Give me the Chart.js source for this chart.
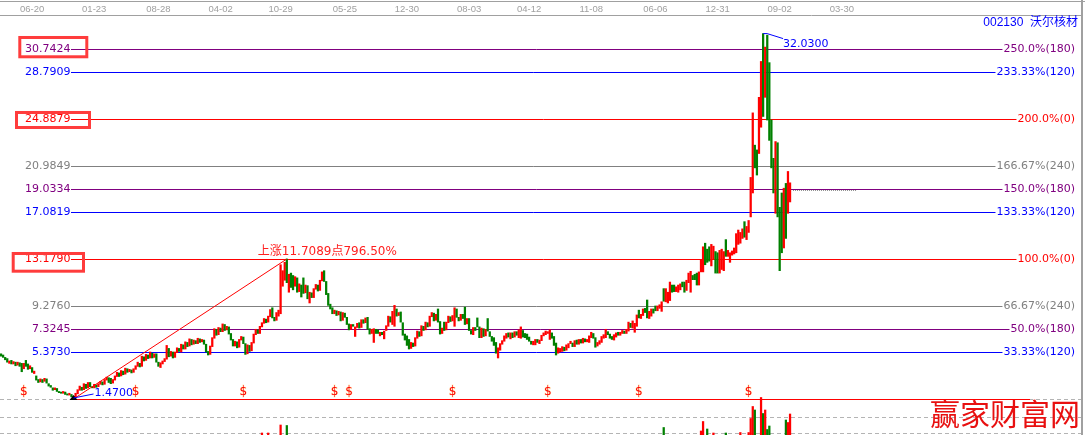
<!DOCTYPE html>
<html>
<head>
<meta charset="utf-8">
<script src="https://cdn.jsdelivr.net/npm/chart.js@4/dist/chart.umd.min.js"></script>
<style>
  html, body { margin: 0; padding: 0; background: #fff; }
</style>
</head>
<body>
<canvas id="myChart" width="1085" height="435"></canvas>
<script>
// weekly bars as [open, close]
const weekly = [
  [5.25,5.05],[5.15,4.95],[4.95,4.75],[4.85,4.55],[4.45,4.65],[4.70,4.40],[4.40,4.60],[4.55,4.25],[4.30,4.55],[4.50,4.20],
  [4.45,3.75],[4.00,4.45],[4.70,4.20],[4.40,3.95],[4.00,4.25],[4.10,3.70],[3.60,3.80],[3.40,3.05],[3.10,2.85],[2.90,3.15],
  [3.10,2.85],[2.95,3.20],[3.15,2.80],[2.75,2.55],[2.60,2.45],[2.40,2.20],[2.25,2.40],[2.35,2.10],[2.10,2.00],[2.05,1.95],
  [1.95,2.10],[2.05,1.85],[1.90,1.80],[1.80,1.95],[1.85,1.65],[1.70,1.47],[1.55,1.95],[1.90,2.25],[2.20,2.55],[2.45,2.20],
  [2.25,2.75],[2.70,2.35],[2.40,2.85],[2.85,2.50],[2.50,2.40],[2.40,2.70],[2.65,2.45],[2.50,2.75],[2.70,2.95],[2.90,2.65],
  [2.70,3.10],[3.05,3.30],[3.25,2.85],[3.20,2.75],[2.80,3.10],[3.05,3.40],[3.35,3.70],[3.65,3.35],[3.40,3.85],[3.80,3.50],
  [3.55,4.05],[4.00,3.70],[3.75,3.95],[3.90,3.65],[3.70,4.00],[3.95,4.25],[4.20,4.55],[4.45,4.15],[4.20,5.05],[5.00,4.65],
  [4.70,5.20],[5.15,4.85],[4.90,5.40],[5.30,4.90],[4.95,5.25],[5.25,4.55],[4.55,4.20],[4.10,4.50],[4.40,4.65],[4.60,4.85],
  [4.80,5.95],[5.70,5.00],[5.05,5.45],[5.40,4.90],[4.95,5.40],[5.35,5.75],[5.70,5.45],[5.40,6.05],[6.00,5.65],[5.65,6.25],
  [6.20,5.85],[5.90,6.50],[6.45,6.00],[6.05,6.40],[6.35,6.10],[6.10,6.55],[6.50,6.20],[6.25,6.45],[6.40,6.05],[6.05,5.40],
  [5.45,5.15],[5.20,5.90],[5.85,6.60],[6.55,7.35],[7.30,6.80],[6.85,7.45],[7.40,7.10],[7.10,7.75],[7.70,7.20],[7.25,7.55],
  [7.50,6.90],[6.95,6.40],[6.45,5.90],[5.90,6.30],[6.25,5.75],[5.80,6.45],[6.40,6.70],[6.65,6.10],[6.10,5.20],[5.25,6.00],
  [5.95,5.45],[5.50,6.20],[6.15,6.90],[6.85,7.30],[7.25,6.95],[6.95,7.55],[7.50,7.85],[7.80,8.20],[8.15,7.85],[7.90,8.40],
  [8.35,8.95],[9.10,8.25],[8.30,8.00],[8.05,8.70],[8.40,8.90],[8.60,12.70],[10.90,12.20],[11.40,12.90],[13.18,11.20],[10.40,11.90],
  [12.00,10.80],[11.80,10.60],[10.90,11.70],[11.60,10.40],[10.45,11.10],[11.00,10.00],[11.60,10.30],[10.35,11.00],[10.95,9.85],[9.50,10.40],
  [10.35,9.95],[9.95,10.70],[10.65,11.05],[11.00,10.50],[10.55,11.40],[11.35,12.10],[12.20,11.30],[11.30,10.20],[10.30,9.30],[9.40,9.00],
  [9.10,8.60],[8.60,8.90],[8.85,8.45],[8.50,8.80],[8.75,8.00],[8.05,8.70],[8.65,8.30],[8.30,7.70],[7.75,7.25],[7.30,7.70],
  [7.70,7.55],[6.70,7.50],[7.45,7.80],[7.85,7.40],[7.45,8.10],[8.10,7.80],[7.85,8.25],[8.30,7.30],[7.35,6.90],[6.95,7.30],
  [6.20,7.35],[7.30,6.95],[7.25,6.95],[6.75,7.05],[7.05,6.85],[6.50,7.15],[7.20,7.60],[7.55,8.40],[8.35,7.90],[7.70,8.80],
  [7.55,9.30],[9.00,8.40],[8.45,8.70],[8.75,7.90],[7.85,6.80],[6.90,6.40],[6.75,5.95],[6.45,5.65],[5.70,6.20],[6.15,5.85],
  [5.90,6.60],[6.55,7.15],[7.10,6.70],[6.75,7.60],[7.55,7.20],[7.25,7.90],[7.85,7.50],[7.55,8.40],[8.35,8.70],[8.65,8.00],
  [8.05,8.55],[9.00,7.90],[7.95,6.90],[6.95,7.40],[7.90,7.20],[7.25,7.90],[7.85,8.40],[8.35,7.95],[8.00,8.45],[7.55,9.10],
  [9.00,8.30],[8.30,8.00],[8.05,8.55],[8.55,8.20],[9.15,7.70],[7.75,8.20],[8.20,7.20],[7.20,6.90],[6.85,7.45],[7.45,7.20],
  [8.25,7.50],[7.50,6.60],[6.60,7.40],[7.35,6.70],[6.75,7.30],[8.20,7.15],[7.10,6.70],[6.70,6.30],[6.60,5.95],[6.20,5.30],
  [4.90,5.75],[5.55,6.10],[6.05,6.35],[6.30,6.75],[6.55,6.95],[7.00,6.65],[6.50,7.00],[7.00,6.60],[6.65,7.10],[7.10,6.80],
  [6.60,7.25],[6.55,7.50],[7.20,6.65],[6.95,6.60],[6.90,6.45],[6.65,6.30],[6.30,6.05],[6.00,6.30],[6.00,6.45],[6.45,6.20],
  [6.10,6.40],[6.35,6.80],[6.75,7.00],[6.85,7.15],[6.95,7.10],[6.45,7.25],[7.00,6.55],[6.70,5.95],[6.15,5.15],[5.30,5.75],
  [5.40,5.70],[5.45,5.85],[5.80,5.50],[5.55,6.00],[5.75,6.10],[6.10,6.30],[6.15,5.85],[5.85,6.35],[6.40,6.05],[6.05,6.45],
  [6.45,6.15],[6.15,6.55],[6.50,6.25],[6.25,6.45],[6.20,6.75],[6.60,7.05],[6.95,6.55],[6.60,5.80],[5.90,6.20],[6.05,6.35],
  [6.20,6.70],[6.55,6.85],[6.60,7.30],[7.10,6.85],[6.90,6.55],[6.70,6.45],[6.40,6.85],[6.65,7.00],[7.05,6.80],[6.80,7.05],
  [6.95,7.20],[7.15,6.95],[6.95,7.30],[7.15,7.90],[7.80,7.45],[7.40,8.00],[7.05,7.80],[7.55,8.50],[8.90,8.25],[8.20,8.55],
  [8.45,9.00],[9.05,8.70],[9.75,8.25],[8.20,8.80],[8.40,9.00],[9.00,8.65],[9.25,8.85],[8.85,9.25],[9.05,9.35],[8.80,9.60],
  [10.70,9.65],[9.60,10.70],[9.50,10.40],[9.70,11.25],[11.00,10.40],[11.00,10.45],[10.45,10.85],[10.40,11.00],[10.60,11.10],[11.25,10.85],
  [11.25,10.40],[10.55,11.40],[11.20,12.00],[10.40,12.15],[11.80,11.45],[11.90,11.45],[12.00,11.00],[11.00,12.10],[12.10,13.10],[12.10,14.20],
  [14.50,12.70],[14.00,12.90],[14.20,13.00],[12.60,14.40],[13.20,14.25],[13.80,12.00],[13.70,12.00],[12.00,13.90],[12.30,14.00],[12.20,13.80],
  [14.80,13.40],[13.40,13.90],[12.90,13.70],[13.50,13.85],[13.60,14.10],[13.70,15.30],[14.40,15.60],[14.50,15.40],[14.90,15.70],[16.30,15.00],
  [14.80,15.90],[15.40,16.40],[16.70,20.00],[18.70,25.40],[22.70,20.80],[22.30,20.20],[22.00,26.70],[24.20,29.70],[32.03,25.10],[26.70,30.90],
  [31.90,24.80],[29.60,23.10],[24.80,20.80],[21.60,18.70],[17.00,23.00],[22.90,16.70],[17.50,12.20],[18.70,13.70],[14.10,19.10],[19.50,14.90],
  [17.00,20.50],[17.95,19.55]
];

// x axis: week slots and the date ticks on top
const slots = 522;
const tickIdx = [15, 45, 76, 106, 135, 166, 196, 226, 255, 285, 316, 346, 376, 406];
const tickLabels = ['06-20', '01-23', '08-28', '04-02', '10-29', '05-25', '12-30', '08-03', '04-12', '11-08', '06-06', '12-31', '09-02', '03-30'];

// golden section levels and their tags
const levels = [30.7424, 28.7909, 24.8879, 20.9849, 19.0334, 17.0819, 13.1790, 9.2760, 7.3245, 5.3730];
const levelTags = ['250.0%(180)', '233.33%(120)', '200.0%(0)', '166.67%(240)', '150.0%(180)', '133.33%(120)', '100.0%(0)', '66.67%(240)', '50.0%(180)', '33.33%(120)'];
const boxedLevels = [30.7424, 24.8879, 13.1790];
const baseLevel = 1.47;

// marks on the price
const lowIdx = 35;
const highIdx = 138;
const riseTop = 13.179;
const riseText = '上涨11.7089点796.50%';
const peakIdx = 368;
const peakValue = 32.03;
const lastPrice = 18.95;
const divIdx = [11, 65, 117, 161, 168, 218, 264, 308, 361];

// volume (only the weeks tall enough to show)
const volIdx = [126, 129, 135, 138, 320, 338, 339, 341, 344, 350, 357, 361, 362, 363, 364, 367, 368, 369, 370, 371, 379, 380, 381];
const vol = [54, 54, 70, 69, 65, 58, 77, 62, 54, 54, 55, 55, 83, 107, 100, 125, 93, 100, 61, 68, 80, 75, 92];
const volGrid = [122, 86.6, 53.4];

const stockName = '002130  沃尔核材';
const watermark = '赢家财富网';

// styles
const UP = '#ff0000';
const DOWN = '#008000';
const tagColors = { '180': '#800080', '120': '#0000ff', '0': '#ff0000', '240': '#808080' };
const boxOffsets = [[19.8, 86.8, -11.5, 7.8], [16.5, 89.5, -6.5, 8.5], [13.2, 83.5, -5.5, 12.2]];
const labelFont = '11px "DejaVu Sans"';

function tagColor(tag) {
    return tagColors[tag.match(/\((\d+)\)/)[1]];
}

function hline(ctx, x0, x1, y) {
    ctx.beginPath();
    ctx.moveTo(x0, y);
    ctx.lineTo(x1, y);
    ctx.stroke();
}

const levelsPlugin = {
    id: 'levels',
    beforeDatasetsDraw(chart) {
        const { ctx, chartArea: a, scales: { y, yv } } = chart;
        ctx.save();
        ctx.lineWidth = 1;

        // volume panel grid
        ctx.strokeStyle = '#b4b4b4';
        ctx.setLineDash([4, 3]);
        volGrid.forEach(v => hline(ctx, 0, a.right, Math.round(yv.getPixelForValue(v)) + 0.5));
        ctx.setLineDash([]);

        ctx.font = labelFont;
        ctx.textBaseline = 'middle';
        levels.forEach((lv, k) => {
            const col = tagColor(levelTags[k]);
            const py = Math.round(y.getPixelForValue(lv)) + 0.5;
            ctx.fillStyle = col;
            ctx.strokeStyle = col;
            ctx.textAlign = 'right';
            ctx.fillText(lv.toFixed(4), 70.5, py);
            const tw = ctx.measureText(levelTags[k]).width;
            ctx.fillText(levelTags[k], 1075, py);
            hline(ctx, 71, 1075 - tw - 1, py);
        });

        // base line at the low
        ctx.strokeStyle = '#ff0000';
        hline(ctx, 72, 1030, Math.round(y.getPixelForValue(baseLevel)) + 0.5);
        ctx.restore();
    }
};

const notesPlugin = {
    id: 'notes',
    afterDatasetsDraw(chart) {
        const { ctx, scales: { x, y } } = chart;
        ctx.save();
        ctx.lineWidth = 1;

        const lx = x.getPixelForValue(lowIdx), ly = y.getPixelForValue(baseLevel);
        const hx = x.getPixelForValue(highIdx), hy = y.getPixelForValue(riseTop);

        // rise line and its text
        ctx.strokeStyle = '#ff0000';
        ctx.beginPath();
        ctx.moveTo(lx, ly);
        ctx.lineTo(hx, hy);
        ctx.stroke();
        ctx.font = '12px "DejaVu Sans", "Noto Sans CJK SC"';
        ctx.fillStyle = '#ff2020';
        ctx.textAlign = 'left';
        ctx.textBaseline = 'middle';
        ctx.fillText(riseText, hx - 29, hy - 7);

        // low marker
        ctx.fillStyle = '#000';
        ctx.beginPath();
        ctx.moveTo(lx, ly - 4);
        ctx.lineTo(lx - 4, ly + 1);
        ctx.lineTo(lx + 4, ly + 1);
        ctx.closePath();
        ctx.fill();
        ctx.strokeStyle = '#0000ff';
        ctx.beginPath();
        ctx.moveTo(lx, ly - 1);
        ctx.lineTo(lx + 20, ly - 5);
        ctx.stroke();
        ctx.font = labelFont;
        ctx.fillStyle = '#0000ff';
        ctx.fillText(baseLevel.toFixed(4), lx + 21, ly - 6);

        // peak marker
        const px = x.getPixelForValue(peakIdx), py = y.getPixelForValue(peakValue);
        ctx.beginPath();
        ctx.moveTo(px, py);
        ctx.lineTo(px + 4, py);
        ctx.lineTo(px + 20, py + 5);
        ctx.stroke();
        ctx.fillText(peakValue.toFixed(4), px + 20, py + 11);

        // dotted last price
        const ex = x.getPixelForValue(weekly.length - 1);
        ctx.strokeStyle = '#909090';
        ctx.setLineDash([1, 1]);
        hline(ctx, ex + 3, ex + 66, Math.round(y.getPixelForValue(lastPrice)) + 0.5);
        ctx.setLineDash([]);

        // dividend marks
        ctx.font = '12px "DejaVu Sans"';
        ctx.textAlign = 'center';
        divIdx.forEach(i => {
            const dx = x.getPixelForValue(i);
            ctx.lineWidth = 1;
            ctx.strokeStyle = 'rgba(255, 225, 150, 0.6)';
            ctx.strokeText('$', dx, ly - 7);
            ctx.fillStyle = '#ff0000';
            ctx.fillText('$', dx, ly - 7);
        });

        // red highlight boxes
        ctx.lineWidth = 3;
        ctx.strokeStyle = '#ff3c3c';
        boxedLevels.forEach((lv, k) => {
            const by = y.getPixelForValue(lv);
            const b = boxOffsets[k];
            ctx.strokeRect(b[0], by + b[2], b[1] - b[0], b[3] - b[2]);
        });

        // frame
        ctx.fillStyle = '#a0a0a0';
        ctx.fillRect(0, 1, 1085, 1);
        ctx.fillRect(1081, 0, 2, 435);

        // title and watermark
        ctx.font = '12px "Liberation Sans", "Noto Sans CJK SC"';
        ctx.fillStyle = '#0000ff';
        ctx.textAlign = 'right';
        ctx.fillText(stockName, 1078, 23);
        ctx.font = '30px "Noto Sans CJK SC"';
        ctx.fillStyle = '#e81010';
        ctx.fillText(watermark, 1080, 414);
        ctx.restore();
    }
};

const ctx = document.getElementById('myChart').getContext('2d');
new Chart(ctx, {
    type: 'bar',
    data: {
        datasets: [{
            data: weekly.map((b, i) => ({ x: i, y: b })),
            backgroundColor: weekly.map(b => b[1] >= b[0] ? UP : DOWN),
            barThickness: 1.6,
            grouped: false,
            yAxisID: 'y'
        }, {
            data: volIdx.map((i, k) => ({ x: i, y: vol[k] })),
            backgroundColor: volIdx.map(i => weekly[i][1] >= weekly[i][0] ? UP : DOWN),
            barThickness: 1.6,
            grouped: false,
            yAxisID: 'yv'
        }]
    },
    options: {
        responsive: false,
        animation: false,
        layout: { padding: { left: 0, right: 4, top: 0, bottom: 0 } },
        plugins: {
            legend: { display: false },
            tooltip: { enabled: false }
        },
        scales: {
            x: {
                type: 'linear',
                position: 'top',
                min: -0.5,
                max: slots - 0.5,
                bounds: 'data',
                offset: false,
                grid: { display: false, drawTicks: false, offset: false },
                border: { display: true, color: '#a0a0a0' },
                afterBuildTicks: s => { s.ticks = tickIdx.map(v => ({ value: v })); },
                afterFit: s => { s.height = 15; },
                ticks: {
                    color: '#a0a0a0',
                    font: { family: 'Liberation Sans', size: 9.5 },
                    padding: 0,
                    maxRotation: 0,
                    autoSkip: false,
                    callback: v => tickLabels[tickIdx.indexOf(v)] ?? ''
                }
            },
            y: { display: false, min: -1.541, max: 33.585 },
            yv: { display: false, min: 50, max: 890 }
        }
    },
    plugins: [levelsPlugin, notesPlugin]
});
</script>
</body>
</html>
